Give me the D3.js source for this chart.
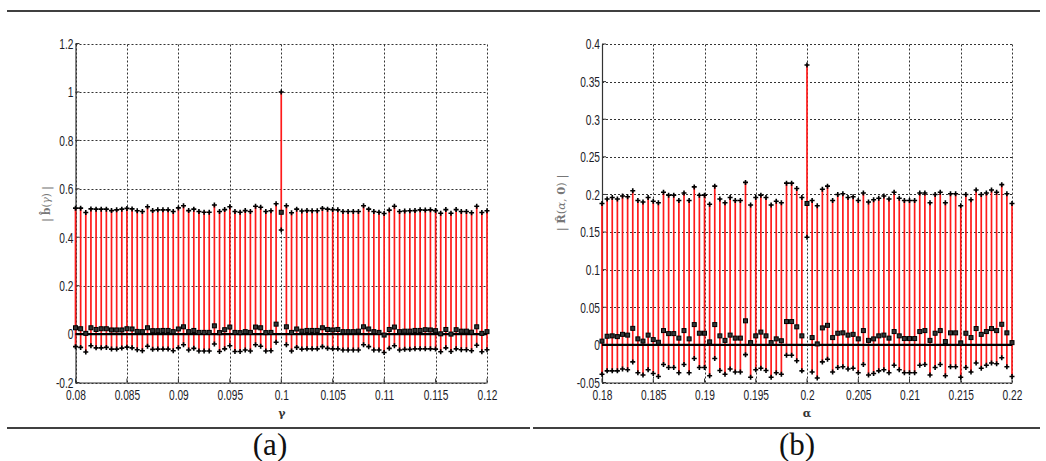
<!DOCTYPE html>
<html><head><meta charset="utf-8">
<script src="https://cdn.jsdelivr.net/npm/d3@7"></script>
<style>
body{margin:0;background:#fff;}
svg{display:block;}
</style></head>
<body>
<svg id="c" width="1046" height="461"></svg>
<script>
// ---------- DATA ----------
const gamma = [0.08,0.0805,0.081,0.0815,0.082,0.0825,0.083,0.0835,0.084,0.0845,0.085,0.0855,0.086,0.0865,0.087,0.0875,0.088,0.0885,0.089,0.0895,0.09,0.0905,0.091,0.0915,0.092,0.0925,0.093,0.0935,0.094,0.0945,0.095,0.0955,0.096,0.0965,0.097,0.0975,0.098,0.0985,0.099,0.0995,0.1,0.1005,0.101,0.1015,0.102,0.1025,0.103,0.1035,0.104,0.1045,0.105,0.1055,0.106,0.1065,0.107,0.1075,0.108,0.1085,0.109,0.1095,0.11,0.1105,0.111,0.1115,0.112,0.1125,0.113,0.1135,0.114,0.1145,0.115,0.1155,0.116,0.1165,0.117,0.1175,0.118,0.1185,0.119,0.1195,0.12];
const bUpper = [0.520,0.520,0.502,0.517,0.516,0.516,0.516,0.510,0.513,0.516,0.519,0.517,0.509,0.506,0.526,0.510,0.513,0.513,0.513,0.506,0.521,0.530,0.510,0.516,0.506,0.503,0.503,0.533,0.506,0.514,0.526,0.506,0.503,0.510,0.506,0.528,0.524,0.506,0.509,0.538,1.000,0.530,0.501,0.516,0.508,0.510,0.509,0.509,0.519,0.516,0.514,0.513,0.506,0.506,0.506,0.506,0.530,0.516,0.506,0.503,0.498,0.512,0.528,0.506,0.508,0.509,0.510,0.513,0.512,0.513,0.510,0.499,0.514,0.499,0.514,0.506,0.506,0.501,0.528,0.502,0.509];
const bMean = [0.026,0.022,0.003,0.026,0.019,0.022,0.022,0.017,0.017,0.017,0.022,0.021,0.011,0.010,0.026,0.014,0.014,0.015,0.015,0.010,0.021,0.030,0.010,0.015,0.007,0.007,0.007,0.034,0.006,0.018,0.029,0.007,0.006,0.010,0.007,0.029,0.026,0.006,0.007,0.041,0.503,0.030,0.007,0.021,0.012,0.015,0.015,0.015,0.026,0.019,0.017,0.019,0.010,0.010,0.010,0.012,0.030,0.021,0.010,0.007,-0.004,0.019,0.029,0.010,0.012,0.012,0.015,0.015,0.018,0.017,0.014,0.001,0.019,0.000,0.018,0.012,0.012,0.008,0.030,0.003,0.010];
const bLower = [-0.052,-0.055,-0.074,-0.048,-0.057,-0.057,-0.055,-0.062,-0.062,-0.058,-0.054,-0.057,-0.065,-0.069,-0.050,-0.063,-0.062,-0.062,-0.062,-0.069,-0.057,-0.044,-0.066,-0.059,-0.070,-0.070,-0.070,-0.041,-0.072,-0.061,-0.048,-0.072,-0.072,-0.066,-0.070,-0.044,-0.050,-0.070,-0.069,-0.034,0.430,-0.044,-0.070,-0.055,-0.062,-0.061,-0.061,-0.061,-0.052,-0.059,-0.061,-0.061,-0.066,-0.066,-0.066,-0.066,-0.044,-0.052,-0.066,-0.066,-0.076,-0.059,-0.048,-0.066,-0.063,-0.063,-0.061,-0.061,-0.061,-0.061,-0.062,-0.073,-0.057,-0.072,-0.061,-0.065,-0.065,-0.069,-0.046,-0.073,-0.065];

const alpha = [0.18,0.1805,0.181,0.1815,0.182,0.1825,0.183,0.1835,0.184,0.1845,0.185,0.1855,0.186,0.1865,0.187,0.1875,0.188,0.1885,0.189,0.1895,0.19,0.1905,0.191,0.1915,0.192,0.1925,0.193,0.1935,0.194,0.1945,0.195,0.1955,0.196,0.1965,0.197,0.1975,0.198,0.1985,0.199,0.1995,0.2,0.2005,0.201,0.2015,0.202,0.2025,0.203,0.2035,0.204,0.2045,0.205,0.2055,0.206,0.2065,0.207,0.2075,0.208,0.2085,0.209,0.2095,0.21,0.2105,0.211,0.2115,0.212,0.2125,0.213,0.2135,0.214,0.2145,0.215,0.2155,0.216,0.2165,0.217,0.2175,0.218,0.2185,0.219,0.2195,0.22];
const rUpper = [0.188,0.194,0.196,0.194,0.198,0.197,0.205,0.192,0.190,0.196,0.191,0.189,0.203,0.199,0.199,0.192,0.202,0.192,0.210,0.199,0.199,0.187,0.211,0.194,0.189,0.196,0.192,0.192,0.216,0.186,0.196,0.199,0.196,0.186,0.191,0.189,0.215,0.215,0.208,0.196,0.372,0.192,0.185,0.207,0.211,0.192,0.200,0.201,0.196,0.197,0.192,0.202,0.190,0.193,0.195,0.198,0.194,0.203,0.195,0.192,0.192,0.192,0.202,0.202,0.189,0.200,0.203,0.189,0.201,0.201,0.185,0.200,0.193,0.206,0.200,0.202,0.206,0.203,0.213,0.201,0.188];
const rMean = [0.005,0.0115,0.012,0.011,0.014,0.013,0.022,0.008,0.005,0.013,0.007,0.0035,0.019,0.015,0.015,0.009,0.019,0.008,0.027,0.0155,0.0155,0.004,0.027,0.012,0.006,0.013,0.009,0.009,0.032,0.003,0.012,0.017,0.012,0.003,0.008,0.0055,0.031,0.031,0.024,0.012,0.188,0.0097,0.0013,0.0226,0.026,0.0097,0.0155,0.016,0.013,0.014,0.008,0.019,0.006,0.008,0.012,0.013,0.009,0.0177,0.012,0.0084,0.0084,0.0084,0.0177,0.019,0.006,0.0155,0.019,0.0044,0.016,0.016,0.0027,0.0155,0.0097,0.0217,0.014,0.0177,0.0217,0.019,0.0274,0.016,0.003];
const rLower = [-0.039,-0.0345,-0.0345,-0.0345,-0.032,-0.033,-0.0226,-0.037,-0.040,-0.033,-0.038,-0.042,-0.026,-0.030,-0.030,-0.037,-0.026,-0.037,-0.018,-0.030,-0.030,-0.041,-0.018,-0.034,-0.039,-0.032,-0.036,-0.036,-0.013,-0.043,-0.033,-0.031,-0.034,-0.043,-0.037,-0.039,-0.0137,-0.0137,-0.021,-0.0345,0.143,-0.036,-0.044,-0.0226,-0.019,-0.036,-0.030,-0.029,-0.032,-0.031,-0.037,-0.026,-0.040,-0.038,-0.0345,-0.033,-0.037,-0.027,-0.033,-0.037,-0.037,-0.037,-0.027,-0.026,-0.040,-0.030,-0.026,-0.041,-0.029,-0.029,-0.043,-0.030,-0.036,-0.024,-0.031,-0.027,-0.024,-0.025,-0.017,-0.029,-0.042];

const gammaTicks = [0.08,0.085,0.09,0.095,0.1,0.105,0.11,0.115,0.12];
const bTicks = [-0.2,0,0.2,0.4,0.6,0.8,1,1.2];
const alphaTicks = [0.18,0.185,0.19,0.195,0.2,0.205,0.21,0.215,0.22];
const rTicks = [-0.05,0,0.05,0.1,0.15,0.2,0.25,0.3,0.35,0.4];

// ---------- DRAW ----------
const svg = d3.select("#c");
const fmt = d => String(+d.toFixed(4));

function panel(cfg){
  const x = d3.scaleLinear().domain(cfg.xd).range(cfg.xr);
  const y = d3.scaleLinear().domain(cfg.yd).range(cfg.yr);
  const g = svg.append("g");
  // grid
  const grid = g.append("g").attr("stroke","#333").attr("stroke-width",1).attr("stroke-dasharray","2,2").attr("fill","none");
  grid.selectAll("line.v").data(cfg.xt).join("line")
    .attr("x1",d=>Math.round(x(d))+0.5).attr("x2",d=>Math.round(x(d))+0.5)
    .attr("y1",cfg.yr[0]).attr("y2",cfg.yr[1]);
  grid.selectAll("line.h").data(cfg.yt).join("line")
    .attr("y1",d=>Math.round(y(d))+0.5).attr("y2",d=>Math.round(y(d))+0.5)
    .attr("x1",cfg.xr[0]).attr("x2",cfg.xr[1]);
  // axes
  const ax = g.append("g").attr("transform",`translate(0,${cfg.yr[0]})`)
    .call(d3.axisBottom(x).tickValues(cfg.xt).tickFormat(fmt).tickSize(0).tickSizeOuter(0).tickPadding(7));
  const ay = g.append("g").attr("transform",`translate(${cfg.xr[0]},0)`)
    .call(d3.axisLeft(y).tickValues(cfg.yt).tickFormat(fmt).tickSize(0).tickSizeOuter(0).tickPadding(3));
  [ax,ay].forEach(a=>{
    a.select(".domain").attr("stroke","#333").attr("stroke-width",1.2);
    a.selectAll("text").attr("font-family","'Liberation Sans',Arial,sans-serif")
      .attr("font-size",15).attr("fill","#1c1c28").attr("transform","scale(0.68,1)");
  });
  // small inward ticks
  g.append("g").selectAll("line").data(cfg.xt).join("line")
    .attr("x1",d=>x(d)).attr("x2",d=>x(d)).attr("y1",cfg.yr[0]).attr("y2",cfg.yr[0]-4)
    .attr("stroke","#333");
  g.append("g").selectAll("line").data(cfg.yt).join("line")
    .attr("y1",d=>y(d)).attr("y2",d=>y(d)).attr("x1",cfg.xr[0]).attr("x2",cfg.xr[0]+4)
    .attr("stroke","#333");
  // stems
  const idx = d3.range(cfg.xs.length);
  g.append("g").selectAll("line").data(idx).join("line")
    .attr("x1",i=>x(cfg.xs[i])).attr("x2",i=>x(cfg.xs[i]))
    .attr("y1",i=>y(cfg.lo[i])).attr("y2",i=>y(cfg.up[i]))
    .attr("stroke","#ff1a1a").attr("stroke-width",1.7);
  // zero line (drawn over stems)
  g.append("line").attr("x1",cfg.xr[0]).attr("x2",cfg.xr[1]).attr("y1",y(0)).attr("y2",y(0))
    .attr("stroke","#000").attr("stroke-width",2.2);
  // plus markers
  const plus = (px,py)=>`M${px-2.5},${py}H${px+2.5}M${px},${py-2.5}V${py+2.5}`;
  g.append("g").selectAll("path").data(idx).join("path")
    .attr("d",i=>plus(x(cfg.xs[i]),y(cfg.up[i]))+plus(x(cfg.xs[i]),y(cfg.lo[i])))
    .attr("stroke","#000").attr("stroke-width",1.6).attr("fill","none");
  // square markers
  g.append("g").selectAll("rect").data(idx).join("rect")
    .attr("x",i=>x(cfg.xs[i])-2).attr("y",i=>y(cfg.me[i])-2)
    .attr("width",4).attr("height",4)
    .attr("fill","#333").attr("stroke","#000").attr("stroke-width",1);
  // x label
  g.append("text").attr("x",cfg.xlab[0]).attr("y",cfg.xlab[1]).attr("text-anchor","middle")
    .attr("font-family","'DejaVu Serif',serif").attr("font-size",11).attr("font-weight","bold")
    .attr("fill","#333").text(cfg.xlabText);
  // y label
  const yl = g.append("text").attr("transform",`translate(${cfg.ylab[0]},${cfg.ylab[1]}) rotate(-90)`)
    .attr("text-anchor","middle").attr("font-family","'DejaVu Serif',serif").attr("font-size",cfg.ylabSize)
    .attr("fill","#777");
  cfg.ylabParts.forEach(p=>{
    const t = yl.append("tspan").text(p.t);
    if(p.b) t.attr("font-weight","bold");
    if(p.i) t.attr("font-style","italic");
  });
}

panel({xd:[0.08,0.12], xr:[75.5,487], yd:[-0.2,1.2], yr:[382.5,43.5],
  xt:gammaTicks, yt:bTicks, xs:gamma, up:bUpper, me:bMean, lo:bLower,
  xlab:[282,417], xlabText:"γ", ylab:[50,204], ylabSize:10.5,
  ylabParts:[{t:"| "},{t:"b\u0302",b:true},{t:"("},{t:"γ",i:true},{t:") |"}]});

panel({xd:[0.18,0.22], xr:[602,1012], yd:[-0.05,0.4], yr:[382.5,44],
  xt:alphaTicks, yt:rTicks, xs:alpha, up:rUpper, me:rMean, lo:rLower,
  xlab:[807,417], xlabText:"α", ylab:[565,203], ylabSize:11.5,
  ylabParts:[{t:"| "},{t:"R\u0302",b:true},{t:"("},{t:"α",i:true},{t:", "},{t:"0",b:true},{t:") |"}]});

// frame lines
svg.append("line").attr("x1",7).attr("x2",1040).attr("y1",11).attr("y2",11).attr("stroke","#000").attr("stroke-width",1.5);
svg.append("line").attr("x1",7).attr("x2",530).attr("y1",428).attr("y2",428).attr("stroke","#000").attr("stroke-width",1.5);
svg.append("line").attr("x1",533).attr("x2",1040).attr("y1",428).attr("y2",428).attr("stroke","#000").attr("stroke-width",1.5);
// captions
const caps = [["(a)",270],["(b)",797]];
svg.selectAll("text.cap").data(caps).join("text").attr("class","cap")
  .attr("x",d=>d[1]).attr("y",455).attr("text-anchor","middle")
  .attr("font-family","'Liberation Serif','DejaVu Serif',serif").attr("font-size",31)
  .attr("fill","#111").text(d=>d[0]);
</script>
</body></html>
